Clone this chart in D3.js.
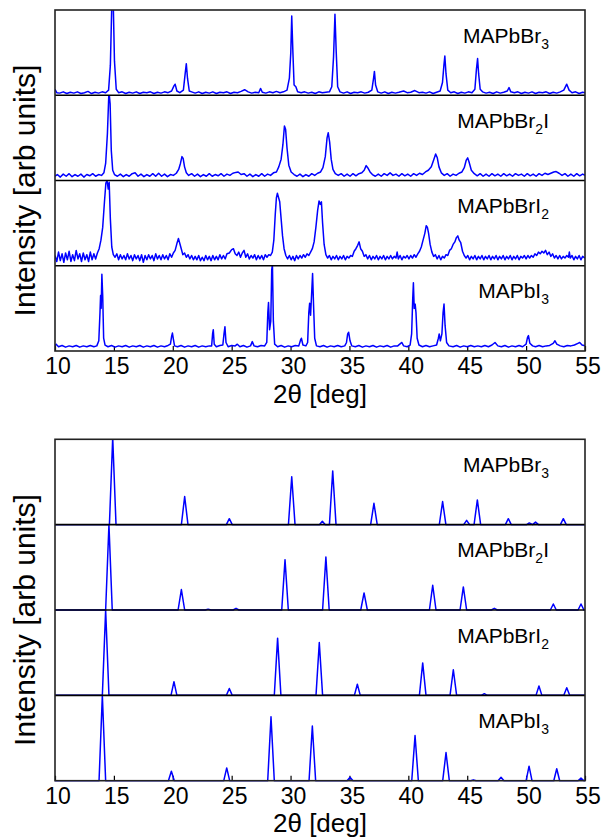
<!DOCTYPE html>
<html>
<head>
<meta charset="utf-8">
<script src="https://cdn.jsdelivr.net/npm/d3@7"></script>
<style>
  html,body{margin:0;padding:0;background:#fff;}
  svg{display:block;}
  text{font-family:"Liberation Sans", Arial, Helvetica, sans-serif;fill:#000;}
</style>
</head>
<body>
<svg id="chart" width="613" height="838"></svg>
<script>
// ---------------- data ----------------
const xTicks = [10, 15, 20, 25, 30, 35, 40, 45, 50, 55];
const xDomain = [10, 55];
const xTitle = "2θ [deg]";
const yTitle = "Intensity [arb units]";
// panel labels: [main, subscript, trailing]
const panelLabels = [
  ["MAPbBr", "3", ""],
  ["MAPbBr", "2", "I"],
  ["MAPbBrI", "2", ""],
  ["MAPbI", "3", ""]
];

// Measured (experimental) XRD patterns: [2θ, normalised intensity]
const expBr3 = [[10.0,0.07],[10.15,0.03],[10.4,0.025],[10.7,0.04],[11.0,0.02],[11.3,0.035],[11.6,0.025],[11.9,0.04],[12.2,0.02],[12.5,0.03],[12.8,0.045],[13.1,0.02],[13.4,0.035],[13.7,0.025],[14.0,0.04],[14.3,0.03],[14.55,0.06],[14.7,0.35],[14.82,1.05],[14.95,1.05],[15.05,0.4],[15.2,0.07],[15.4,0.03],[15.7,0.04],[16.0,0.02],[16.3,0.035],[16.6,0.025],[16.9,0.04],[17.2,0.02],[17.5,0.035],[17.8,0.03],[18.1,0.04],[18.4,0.02],[18.7,0.035],[19.0,0.025],[19.3,0.04],[19.6,0.03],[19.9,0.05],[20.1,0.11],[20.2,0.13],[20.35,0.05],[20.6,0.03],[20.9,0.06],[21.05,0.25],[21.15,0.37],[21.25,0.2],[21.4,0.05],[21.6,0.04],[21.9,0.025],[22.2,0.04],[22.5,0.02],[22.8,0.035],[23.1,0.025],[23.4,0.04],[23.7,0.02],[24.0,0.035],[24.3,0.03],[24.6,0.04],[24.9,0.02],[25.2,0.035],[25.5,0.03],[25.8,0.045],[26.1,0.065],[26.4,0.04],[26.7,0.025],[27.0,0.035],[27.3,0.03],[27.45,0.08],[27.6,0.035],[27.9,0.025],[28.2,0.04],[28.5,0.03],[28.8,0.045],[29.1,0.03],[29.4,0.04],[29.7,0.06],[29.9,0.2],[30.02,0.5],[30.1,0.93],[30.2,0.5],[30.3,0.12],[30.45,0.1],[30.6,0.04],[30.9,0.03],[31.2,0.04],[31.5,0.025],[31.8,0.035],[32.1,0.02],[32.4,0.04],[32.7,0.03],[33.0,0.035],[33.3,0.04],[33.5,0.1],[33.65,0.45],[33.77,0.95],[33.88,0.5],[34.0,0.1],[34.2,0.04],[34.5,0.025],[34.8,0.04],[35.1,0.02],[35.4,0.035],[35.7,0.03],[36.0,0.04],[36.3,0.025],[36.6,0.035],[36.9,0.06],[37.05,0.2],[37.12,0.28],[37.22,0.12],[37.4,0.04],[37.7,0.025],[38.0,0.04],[38.3,0.02],[38.6,0.035],[38.9,0.025],[39.2,0.035],[39.6,0.05],[39.9,0.03],[40.2,0.035],[40.55,0.055],[40.9,0.03],[41.2,0.035],[41.5,0.025],[41.8,0.04],[42.1,0.02],[42.4,0.035],[42.7,0.05],[42.9,0.15],[43.02,0.35],[43.1,0.46],[43.2,0.25],[43.35,0.06],[43.6,0.03],[43.9,0.04],[44.2,0.02],[44.5,0.035],[44.8,0.025],[45.1,0.04],[45.4,0.03],[45.65,0.07],[45.78,0.3],[45.88,0.43],[45.97,0.25],[46.1,0.07],[46.3,0.04],[46.6,0.025],[46.9,0.035],[47.2,0.02],[47.5,0.04],[47.8,0.025],[48.1,0.035],[48.4,0.05],[48.55,0.09],[48.7,0.04],[49.0,0.03],[49.3,0.04],[49.6,0.02],[49.9,0.035],[50.2,0.025],[50.5,0.04],[50.8,0.02],[51.1,0.035],[51.4,0.03],[51.7,0.04],[52.0,0.02],[52.3,0.035],[52.6,0.025],[52.9,0.04],[53.2,0.06],[53.45,0.13],[53.65,0.06],[53.9,0.03],[54.2,0.04],[54.5,0.02],[54.8,0.035],[55.0,0.03]];

const expBr2I = [[10.0,0.05],[10.2,0.07],[10.45,0.04],[10.7,0.075],[10.95,0.05],[11.2,0.08],[11.45,0.045],[11.7,0.07],[11.95,0.05],[12.2,0.075],[12.45,0.04],[12.7,0.07],[12.95,0.055],[13.2,0.08],[13.45,0.05],[13.7,0.07],[13.95,0.06],[14.15,0.09],[14.3,0.2],[14.45,0.55],[14.58,1.05],[14.68,0.9],[14.78,0.35],[14.9,0.12],[15.05,0.07],[15.3,0.05],[15.55,0.075],[15.8,0.045],[16.05,0.07],[16.3,0.05],[16.55,0.08],[16.8,0.09],[17.05,0.05],[17.3,0.075],[17.55,0.045],[17.8,0.07],[18.05,0.05],[18.3,0.08],[18.55,0.05],[18.8,0.085],[19.05,0.05],[19.3,0.075],[19.55,0.045],[19.8,0.07],[20.05,0.06],[20.3,0.085],[20.5,0.13],[20.65,0.2],[20.78,0.28],[20.88,0.26],[21.0,0.16],[21.15,0.09],[21.35,0.06],[21.6,0.08],[21.85,0.05],[22.1,0.075],[22.35,0.045],[22.6,0.07],[22.85,0.05],[23.1,0.08],[23.35,0.05],[23.6,0.07],[23.85,0.055],[24.1,0.08],[24.35,0.05],[24.6,0.075],[24.85,0.06],[25.1,0.085],[25.35,0.095],[25.55,0.1],[25.8,0.07],[26.05,0.08],[26.3,0.05],[26.55,0.075],[26.8,0.045],[27.05,0.07],[27.3,0.05],[27.55,0.08],[27.8,0.05],[28.05,0.075],[28.3,0.06],[28.55,0.09],[28.8,0.1],[29.0,0.16],[29.2,0.25],[29.35,0.42],[29.48,0.64],[29.58,0.6],[29.7,0.38],[29.85,0.18],[30.05,0.1],[30.3,0.07],[30.55,0.05],[30.8,0.075],[31.05,0.045],[31.3,0.07],[31.55,0.05],[31.8,0.08],[32.05,0.06],[32.3,0.085],[32.55,0.1],[32.75,0.15],[32.95,0.28],[33.1,0.5],[33.2,0.56],[33.32,0.45],[33.45,0.25],[33.6,0.13],[33.8,0.08],[34.05,0.06],[34.3,0.08],[34.55,0.05],[34.8,0.075],[35.05,0.05],[35.3,0.08],[35.55,0.055],[35.8,0.08],[36.05,0.09],[36.25,0.12],[36.42,0.175],[36.55,0.15],[36.75,0.1],[36.95,0.07],[37.2,0.05],[37.45,0.075],[37.7,0.05],[37.95,0.08],[38.2,0.06],[38.45,0.09],[38.7,0.06],[38.95,0.075],[39.2,0.05],[39.45,0.08],[39.7,0.055],[39.95,0.075],[40.2,0.05],[40.45,0.08],[40.7,0.06],[40.95,0.085],[41.2,0.07],[41.45,0.1],[41.7,0.12],[41.95,0.16],[42.15,0.24],[42.32,0.31],[42.45,0.27],[42.6,0.16],[42.8,0.09],[43.05,0.06],[43.3,0.08],[43.55,0.05],[43.8,0.075],[44.05,0.06],[44.3,0.085],[44.55,0.1],[44.75,0.15],[44.92,0.24],[45.04,0.265],[45.15,0.22],[45.35,0.12],[45.6,0.08],[45.85,0.055],[46.1,0.08],[46.35,0.05],[46.6,0.075],[46.85,0.05],[47.1,0.08],[47.35,0.055],[47.6,0.075],[47.85,0.05],[48.1,0.08],[48.35,0.055],[48.6,0.075],[48.85,0.05],[49.1,0.08],[49.35,0.06],[49.6,0.075],[49.85,0.05],[50.1,0.08],[50.35,0.055],[50.6,0.075],[50.85,0.05],[51.1,0.08],[51.35,0.06],[51.6,0.085],[51.85,0.07],[52.1,0.085],[52.35,0.1],[52.55,0.105],[52.8,0.085],[53.05,0.06],[53.3,0.08],[53.55,0.05],[53.8,0.075],[54.05,0.05],[54.3,0.08],[54.55,0.055],[54.8,0.075],[55.0,0.06]];

const expBrI2 = [[10.0,0.12],[10.15,0.05],[10.3,0.16],[10.45,0.06],[10.6,0.14],[10.75,0.04],[10.9,0.15],[11.05,0.07],[11.2,0.17],[11.35,0.05],[11.5,0.13],[11.65,0.06],[11.8,0.18],[11.95,0.08],[12.1,0.14],[12.25,0.05],[12.4,0.15],[12.55,0.07],[12.7,0.13],[12.85,0.05],[13.0,0.16],[13.15,0.07],[13.3,0.14],[13.45,0.08],[13.6,0.15],[13.75,0.2],[13.9,0.3],[14.05,0.45],[14.2,0.75],[14.32,0.97],[14.42,1.0],[14.52,0.9],[14.6,0.98],[14.7,0.55],[14.82,0.22],[14.95,0.13],[15.1,0.1],[15.25,0.14],[15.4,0.07],[15.55,0.13],[15.7,0.08],[15.85,0.12],[16.0,0.07],[16.15,0.14],[16.3,0.08],[16.45,0.12],[16.6,0.06],[16.75,0.13],[16.9,0.08],[17.05,0.12],[17.2,0.06],[17.35,0.13],[17.5,0.04],[17.65,0.12],[17.8,0.07],[17.95,0.13],[18.1,0.08],[18.25,0.12],[18.4,0.06],[18.55,0.14],[18.7,0.08],[18.85,0.12],[19.0,0.07],[19.15,0.13],[19.3,0.08],[19.45,0.12],[19.6,0.07],[19.75,0.14],[19.9,0.1],[20.05,0.15],[20.2,0.18],[20.35,0.26],[20.48,0.32],[20.58,0.27],[20.72,0.2],[20.85,0.13],[21.0,0.15],[21.15,0.1],[21.3,0.13],[21.45,0.08],[21.6,0.12],[21.75,0.07],[21.9,0.11],[22.05,0.07],[22.2,0.12],[22.35,0.06],[22.5,0.1],[22.65,0.06],[22.8,0.12],[22.95,0.07],[23.1,0.11],[23.25,0.06],[23.4,0.12],[23.55,0.07],[23.7,0.11],[23.85,0.07],[24.0,0.13],[24.15,0.08],[24.3,0.12],[24.45,0.08],[24.6,0.14],[24.8,0.15],[25.0,0.19],[25.15,0.2],[25.3,0.14],[25.45,0.12],[25.6,0.16],[25.75,0.1],[25.9,0.15],[26.05,0.18],[26.2,0.1],[26.35,0.14],[26.5,0.08],[26.65,0.12],[26.8,0.09],[26.95,0.13],[27.1,0.07],[27.25,0.12],[27.4,0.08],[27.55,0.12],[27.7,0.07],[27.85,0.13],[28.0,0.1],[28.15,0.13],[28.3,0.12],[28.45,0.16],[28.58,0.3],[28.7,0.6],[28.8,0.8],[28.88,0.85],[28.98,0.8],[29.08,0.75],[29.2,0.55],[29.32,0.35],[29.45,0.2],[29.6,0.12],[29.75,0.08],[29.9,0.12],[30.05,0.07],[30.2,0.11],[30.35,0.06],[30.5,0.12],[30.65,0.08],[30.8,0.12],[30.95,0.09],[31.1,0.13],[31.25,0.1],[31.4,0.14],[31.55,0.12],[31.7,0.16],[31.85,0.2],[32.0,0.28],[32.15,0.45],[32.3,0.65],[32.42,0.76],[32.52,0.72],[32.62,0.75],[32.72,0.5],[32.85,0.25],[33.0,0.13],[33.15,0.09],[33.3,0.12],[33.45,0.07],[33.6,0.11],[33.75,0.08],[33.9,0.12],[34.05,0.07],[34.2,0.11],[34.35,0.08],[34.5,0.12],[34.65,0.07],[34.8,0.11],[34.95,0.09],[35.1,0.12],[35.25,0.11],[35.4,0.17],[35.55,0.2],[35.7,0.24],[35.82,0.28],[35.95,0.2],[36.1,0.17],[36.25,0.11],[36.4,0.13],[36.55,0.08],[36.7,0.12],[36.85,0.07],[37.0,0.11],[37.15,0.08],[37.3,0.12],[37.45,0.07],[37.6,0.11],[37.75,0.08],[37.9,0.12],[38.05,0.07],[38.2,0.11],[38.35,0.08],[38.5,0.12],[38.65,0.08],[38.8,0.11],[38.95,0.09],[39.05,0.16],[39.15,0.08],[39.3,0.12],[39.45,0.07],[39.6,0.11],[39.75,0.09],[39.9,0.12],[40.05,0.08],[40.2,0.12],[40.35,0.09],[40.5,0.13],[40.65,0.1],[40.8,0.14],[40.95,0.17],[41.1,0.22],[41.25,0.3],[41.4,0.38],[41.52,0.47],[41.62,0.45],[41.72,0.38],[41.85,0.25],[42.0,0.16],[42.15,0.11],[42.3,0.13],[42.45,0.08],[42.6,0.12],[42.75,0.07],[42.9,0.11],[43.05,0.09],[43.2,0.13],[43.35,0.12],[43.5,0.18],[43.65,0.2],[43.8,0.25],[43.95,0.28],[44.08,0.33],[44.2,0.35],[44.32,0.3],[44.45,0.27],[44.6,0.17],[44.75,0.12],[44.9,0.09],[45.05,0.12],[45.2,0.07],[45.35,0.11],[45.5,0.08],[45.65,0.12],[45.8,0.07],[45.95,0.11],[46.1,0.08],[46.25,0.12],[46.4,0.07],[46.55,0.11],[46.7,0.08],[46.85,0.12],[47.0,0.07],[47.15,0.11],[47.3,0.08],[47.45,0.12],[47.6,0.07],[47.75,0.11],[47.9,0.08],[48.05,0.12],[48.2,0.07],[48.35,0.11],[48.5,0.08],[48.65,0.12],[48.8,0.07],[48.95,0.11],[49.1,0.08],[49.25,0.12],[49.4,0.07],[49.55,0.11],[49.7,0.09],[49.85,0.12],[50.0,0.08],[50.15,0.12],[50.3,0.09],[50.45,0.12],[50.6,0.1],[50.75,0.14],[50.9,0.12],[51.05,0.16],[51.2,0.14],[51.35,0.17],[51.5,0.15],[51.65,0.18],[51.8,0.13],[51.95,0.16],[52.1,0.11],[52.25,0.14],[52.4,0.09],[52.55,0.12],[52.7,0.08],[52.85,0.12],[53.0,0.08],[53.15,0.11],[53.3,0.09],[53.45,0.12],[53.6,0.1],[53.67,0.16],[53.75,0.09],[53.9,0.12],[54.05,0.07],[54.2,0.11],[54.35,0.08],[54.5,0.12],[54.65,0.07],[54.8,0.11],[55.0,0.09]];

const expI3 = [[10.0,0.06],[10.1,0.08],[10.3,0.05],[10.6,0.065],[10.9,0.045],[11.2,0.06],[11.5,0.05],[11.8,0.065],[12.1,0.045],[12.4,0.06],[12.7,0.05],[13.0,0.065],[13.3,0.05],[13.55,0.06],[13.72,0.12],[13.82,0.45],[13.87,0.65],[13.92,0.5],[13.98,0.9],[14.05,0.65],[14.13,0.15],[14.25,0.07],[14.5,0.05],[14.8,0.065],[15.1,0.045],[15.4,0.06],[15.7,0.05],[16.0,0.065],[16.3,0.045],[16.6,0.06],[16.9,0.05],[17.2,0.065],[17.5,0.045],[17.8,0.06],[18.1,0.05],[18.4,0.065],[18.7,0.045],[19.0,0.06],[19.3,0.05],[19.6,0.065],[19.8,0.08],[19.9,0.17],[19.97,0.21],[20.05,0.14],[20.15,0.06],[20.4,0.05],[20.7,0.065],[21.0,0.045],[21.3,0.06],[21.6,0.05],[21.9,0.065],[22.2,0.045],[22.5,0.06],[22.8,0.05],[23.1,0.06],[23.3,0.06],[23.38,0.2],[23.44,0.25],[23.52,0.08],[23.7,0.05],[24.0,0.065],[24.25,0.07],[24.35,0.2],[24.43,0.285],[24.52,0.1],[24.7,0.05],[25.0,0.065],[25.3,0.06],[25.48,0.08],[25.7,0.05],[26.0,0.065],[26.3,0.045],[26.6,0.06],[26.75,0.11],[26.9,0.06],[27.2,0.05],[27.5,0.065],[27.8,0.06],[27.98,0.1],[28.07,0.45],[28.13,0.57],[28.22,0.25],[28.32,0.35],[28.4,0.95],[28.46,1.02],[28.54,0.35],[28.65,0.08],[28.9,0.05],[29.2,0.065],[29.5,0.045],[29.8,0.06],[30.1,0.05],[30.4,0.065],[30.7,0.06],[30.85,0.13],[30.92,0.15],[31.05,0.07],[31.3,0.06],[31.45,0.1],[31.55,0.45],[31.62,0.56],[31.7,0.42],[31.8,0.7],[31.87,0.91],[31.95,0.55],[32.05,0.15],[32.2,0.06],[32.5,0.05],[32.8,0.065],[33.1,0.045],[33.4,0.06],[33.7,0.05],[34.0,0.065],[34.3,0.05],[34.6,0.06],[34.75,0.1],[34.85,0.2],[34.93,0.22],[35.05,0.12],[35.2,0.06],[35.5,0.05],[35.8,0.065],[36.1,0.045],[36.4,0.06],[36.7,0.05],[37.0,0.065],[37.3,0.045],[37.6,0.06],[37.9,0.05],[38.2,0.065],[38.5,0.045],[38.8,0.06],[39.1,0.06],[39.35,0.09],[39.45,0.1],[39.6,0.06],[39.9,0.05],[40.15,0.07],[40.28,0.2],[40.37,0.6],[40.43,0.8],[40.5,0.5],[40.58,0.55],[40.65,0.45],[40.75,0.15],[40.9,0.07],[41.2,0.05],[41.5,0.065],[41.8,0.05],[42.1,0.06],[42.4,0.07],[42.55,0.15],[42.62,0.2],[42.72,0.12],[42.85,0.2],[42.95,0.45],[43.03,0.55],[43.12,0.3],[43.25,0.1],[43.45,0.06],[43.8,0.05],[44.1,0.065],[44.4,0.045],[44.7,0.06],[45.0,0.05],[45.3,0.065],[45.6,0.05],[45.9,0.06],[46.2,0.05],[46.5,0.065],[46.8,0.05],[47.1,0.07],[47.36,0.1],[47.6,0.06],[47.9,0.05],[48.2,0.065],[48.5,0.045],[48.8,0.06],[49.1,0.05],[49.4,0.065],[49.7,0.05],[50.0,0.08],[50.12,0.16],[50.2,0.18],[50.32,0.09],[50.55,0.06],[50.8,0.05],[51.1,0.065],[51.4,0.05],[51.7,0.06],[52.0,0.065],[52.3,0.09],[52.45,0.12],[52.6,0.08],[52.9,0.06],[53.2,0.05],[53.5,0.065],[53.8,0.06],[54.1,0.07],[54.4,0.09],[54.55,0.1],[54.75,0.07],[55.0,0.06]];

// Simulated patterns: [2θ, normalised intensity]
const simBr3 = [[10,0],[14.62,0],[14.9,1.02],[15.18,0],[20.73,0],[21.01,0.33],[21.29,0],[24.55,0],[24.8,0.07],[25.05,0],[29.82,0],[30.1,0.56],[30.38,0],[32.45,0],[32.7,0.04],[32.95,0],[33.3,0],[33.58,0.63],[33.86,0],[36.8,0],[37.08,0.25],[37.36,0],[42.63,0],[42.91,0.27],[43.19,0],[44.7,0],[44.95,0.05],[45.2,0],[45.58,0],[45.86,0.29],[46.14,0],[48.24,0],[48.49,0.07],[48.74,0],[50.05,0],[50.27,0.02],[50.55,0],[50.8,0.03],[51.05,0],[52.91,0],[53.16,0.07],[53.41,0],[55,0]];
const simBr2I = [[10,0],[14.3,0],[14.58,1.0],[14.86,0],[20.45,0],[20.73,0.24],[21.01,0],[22.75,0],[23.0,0.01],[23.25,0],[25.12,0],[25.37,0.02],[25.62,0],[29.25,0],[29.53,0.59],[29.81,0],[32.72,0],[33.0,0.62],[33.28,0],[35.96,0],[36.24,0.2],[36.52,0],[41.79,0],[42.07,0.29],[42.35,0],[44.39,0],[44.67,0.27],[44.95,0],[47.05,0],[47.3,0.02],[47.55,0],[52.06,0],[52.31,0.07],[52.56,0],[54.41,0],[54.66,0.07],[54.91,0],[55,0]];
const simBrI2 = [[10,0],[14.02,0],[14.3,1.0],[14.58,0],[19.85,0],[20.1,0.16],[20.35,0],[24.55,0],[24.8,0.08],[25.05,0],[28.62,0],[28.9,0.67],[29.18,0],[32.16,0],[32.44,0.62],[32.72,0],[35.42,0],[35.67,0.13],[35.92,0],[40.94,0],[41.22,0.38],[41.5,0],[43.54,0],[43.82,0.3],[44.1,0],[46.2,0],[46.45,0.02],[46.7,0],[50.84,0],[51.09,0.11],[51.34,0],[53.2,0],[53.45,0.09],[53.7,0],[55,0]];
const simI3 = [[10,0],[13.74,0],[14.02,1.0],[14.3,0],[19.63,0],[19.88,0.11],[20.13,0],[24.33,0],[24.58,0.15],[24.83,0],[28.06,0],[28.34,0.75],[28.62,0],[31.57,0],[31.85,0.64],[32.13,0],[34.8,0],[35.05,0.04],[35.3,0],[40.29,0],[40.57,0.53],[40.85,0],[42.92,0],[43.2,0.33],[43.48,0],[45.3,0],[45.52,0.01],[45.75,0],[47.62,0],[47.87,0.04],[48.12,0],[50.0,0],[50.25,0.17],[50.5,0],[52.35,0],[52.6,0.14],[52.85,0],[54.41,0],[54.66,0.03],[54.91,0],[55,0]];

const experimentalSeries = [expBr3, expBr2I, expBrI2, expI3];
const simulatedSeries = [simBr3, simBr2I, simBrI2, simI3];

// ---------------- drawing ----------------
const svg = d3.select("#chart");
const left = 55, right = 585;
const x = d3.scaleLinear().domain(xDomain).range([left, right]);

const figures = [
  {top: 10, bottom: 351, series: experimentalSeries, lw: 1.5},
  {top: 439.3, bottom: 780.7, series: simulatedSeries, lw: 1.5}
];

figures.forEach((fig, fi) => {
  const g = svg.append("g");
  const n = fig.series.length;
  const ph = (fig.bottom - fig.top) / n;

  // inward ticks on bottom axis
  const axis = d3.axisBottom(x).tickValues(xTicks).tickSize(-5).tickFormat("");
  const ag = g.append("g").attr("transform", `translate(0,${fig.bottom})`).call(axis);
  ag.select(".domain").remove();
  ag.selectAll(".tick line").attr("stroke", "#000").attr("stroke-width", 1.2);

  fig.series.forEach((data, i) => {
    const pTop = fig.top + i * ph, pBot = pTop + ph;
    const y = d3.scaleLinear().domain([0, 1]).range([pBot, pTop]);
    const cid = `clip-${fi}-${i}`;
    svg.append("clipPath").attr("id", cid)
      .append("rect").attr("x", left).attr("y", pTop).attr("width", right - left).attr("height", ph + 1);
    const line = d3.line().x(d => x(d[0])).y(d => y(d[1]));
    g.append("path").datum(data)
      .attr("clip-path", `url(#${cid})`)
      .attr("d", line)
      .attr("fill", "none")
      .attr("stroke", "#0000ff")
      .attr("stroke-width", fig.lw)
      .attr("stroke-linejoin", "round");

    const lab = panelLabels[i];
    const t = g.append("text")
      .attr("x", 549).attr("y", pTop + 32.5)
      .attr("text-anchor", "end")
      .style("font-size", "21px");
    t.append("tspan").text(lab[0]);
    t.append("tspan").attr("dy", 6).style("font-size", "14px").text(lab[1]);
    if (lab[2]) t.append("tspan").attr("dy", -6).text(lab[2]);
  });

  // dividers
  for (let i = 1; i < n; i++) {
    const yy = fig.top + i * ph;
    g.append("line").attr("x1", left).attr("x2", right).attr("y1", yy).attr("y2", yy)
      .attr("stroke", "#000").attr("stroke-width", 1.6);
  }
  // frame
  g.append("rect").attr("x", left).attr("y", fig.top)
    .attr("width", right - left).attr("height", fig.bottom - fig.top)
    .attr("fill", "none").attr("stroke", "#222").attr("stroke-width", 1.6);

  // tick labels
  g.selectAll("text.tl").data(xTicks).enter().append("text")
    .attr("class", "tl")
    .attr("x", d => x(d) + 3)
    .attr("y", fig.bottom + 23)
    .attr("text-anchor", "middle")
    .style("font-size", "23px")
    .text(d => d);

  // x title
  g.append("text").attr("x", (left + right) / 2).attr("y", fig.bottom + 51.7)
    .attr("text-anchor", "middle").style("font-size", "26px").text(xTitle);

  // y title
  const cy = (fig.top + fig.bottom) / 2 + 10;
  g.append("text").attr("transform", `translate(35,${cy}) rotate(-90)`)
    .attr("text-anchor", "middle").style("font-size", "30px").text(yTitle);
});
</script>
</body>
</html>
